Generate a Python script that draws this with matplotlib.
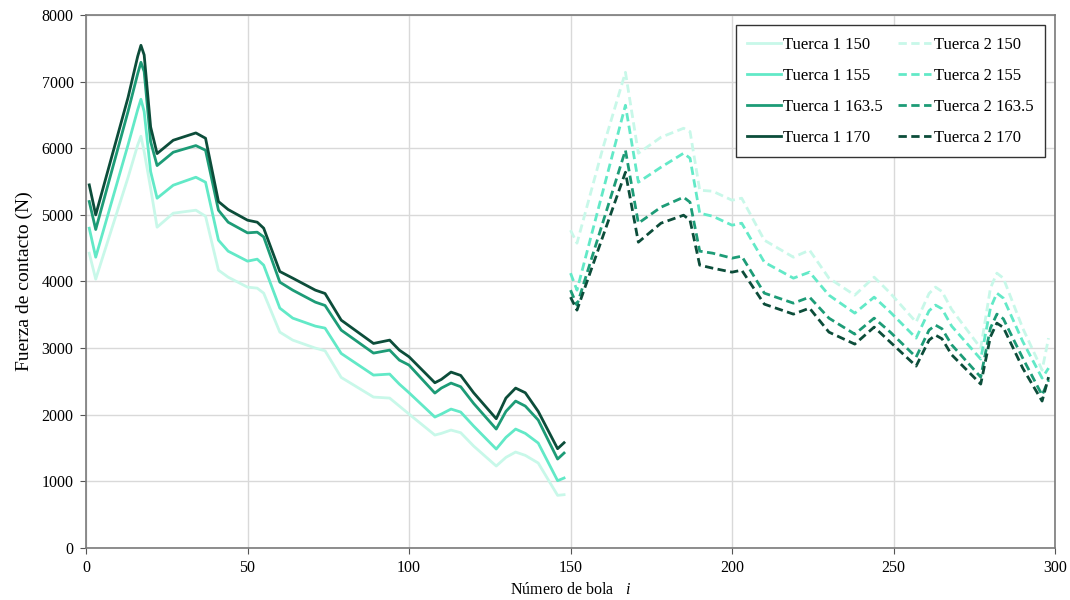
import matplotlib
matplotlib.use("Agg")
import matplotlib.pyplot as plt

plt.rcParams['font.family'] = ['Liberation Serif', 'DejaVu Serif']
plt.rcParams['mathtext.fontset'] = 'custom'
plt.rcParams['mathtext.it'] = 'Liberation Serif:italic'
plt.rcParams['mathtext.rm'] = 'Liberation Serif'

# Tuerca 1: bolas 1-148
bolas_t1 = [1, 3, 13, 16, 17, 18, 20, 22, 27, 34, 37, 41, 44, 50, 53, 55, 60, 64,
            71, 74, 79, 89, 94, 97, 100, 108, 110, 113, 116, 120, 127, 130, 133,
            136, 140, 146, 148]
t1_150 = [4425, 4035, 5560, 6050, 6180, 5950, 5400, 4815, 5025, 5070, 4980, 4170,
          4065, 3915, 3900, 3825, 3240, 3120, 3000, 2960, 2560, 2265, 2250, 2130,
          2010, 1695, 1720, 1770, 1730, 1530, 1230, 1360, 1440, 1390, 1275, 790, 800]
t1_155 = [4800, 4365, 6050, 6580, 6735, 6550, 5650, 5250, 5445, 5565, 5490, 4620,
          4455, 4305, 4335, 4245, 3600, 3450, 3330, 3300, 2920, 2595, 2610, 2460,
          2330, 1965, 2010, 2085, 2040, 1830, 1485, 1660, 1785, 1720, 1575, 1010, 1050]
t1_163 = [5200, 4780, 6550, 7120, 7290, 7150, 6100, 5740, 5940, 6040, 5970, 5070,
          4890, 4730, 4740, 4670, 3990, 3870, 3690, 3640, 3270, 2925, 2970, 2820,
          2745, 2325, 2400, 2475, 2420, 2170, 1785, 2050, 2205, 2130, 1920, 1335, 1425]
t1_170 = [5450, 5000, 6760, 7380, 7545, 7400, 6320, 5920, 6120, 6230, 6150, 5200,
          5080, 4920, 4890, 4800, 4150, 4050, 3870, 3820, 3420, 3070, 3120, 2970,
          2870, 2480, 2530, 2640, 2590, 2330, 1940, 2250, 2400, 2330, 2050, 1490, 1580]

# Tuerca 2: bolas 150-298
bolas_t2 = [150, 152, 160, 167, 171, 178, 185, 187, 190, 194, 200, 203, 210, 219,
            224, 230, 238, 244, 249, 257, 261, 263, 265, 268, 277, 280, 282, 284,
            290, 296, 298]
t2_150 = [4770, 4575, 6000, 7140, 5925, 6165, 6300, 6250, 5370, 5355, 5220, 5250,
          4620, 4365, 4470, 4050, 3795, 4065, 3825, 3390, 3820, 3915, 3850, 3580,
          3000, 3900, 4125, 4050, 3300, 2670, 3150]
t2_155 = [4125, 3870, 5350, 6645, 5490, 5715, 5925, 5850, 5025, 4980, 4845, 4875,
          4290, 4050, 4140, 3795, 3525, 3765, 3540, 3150, 3560, 3645, 3590, 3330,
          2835, 3600, 3825, 3750, 3100, 2550, 2700]
t2_163 = [3870, 3645, 4885, 5970, 4875, 5115, 5265, 5190, 4455, 4425, 4350, 4380,
          3825, 3675, 3765, 3450, 3210, 3450, 3240, 2865, 3270, 3345, 3290, 3050,
          2565, 3300, 3510, 3440, 2850, 2295, 2520]
t2_170 = [3765, 3570, 4675, 5640, 4590, 4875, 4995, 4920, 4245, 4200, 4140, 4170,
          3660, 3510, 3600, 3240, 3060, 3315, 3090, 2730, 3120, 3195, 3140, 2900,
          2460, 3170, 3375, 3310, 2700, 2205, 2565]

cargas = ['150', '155', '163.5', '170']
colores = ['#c8f8e9', '#62e9c7', '#1d9c77', '#0c4d3a']

fig = plt.figure(figsize=(10.7, 6), dpi=100)
ax = fig.add_axes([0.0804, 0.0867, 0.9056, 0.8883])

series_t1 = [t1_150, t1_155, t1_163, t1_170]
series_t2 = [t2_150, t2_155, t2_163, t2_170]

lineas = []
for carga, color, y in zip(cargas, colores, series_t1):
    l, = ax.plot(bolas_t1, y, color=color, lw=2.0, label=f'Tuerca 1 {carga}',
                 solid_joinstyle='round')
    lineas.append(l)
for carga, color, y in zip(cargas, colores, series_t2):
    l, = ax.plot(bolas_t2, y, color=color, lw=2.0, ls=(0, (3, 1.6)),
                 label=f'Tuerca 2 {carga}', dash_joinstyle='round')
    lineas.append(l)

ax.set_xlim(0, 300)
ax.set_ylim(0, 8000)
ax.set_xticks(range(0, 301, 50))
ax.set_yticks(range(0, 8001, 1000))
ax.grid(True, color='#d9d9d9', lw=1)
ax.set_axisbelow(True)
ax.tick_params(direction='out', length=4, pad=5, labelsize=11.5, color='#555555')
for s in ax.spines.values():
    s.set_color('#7a7a7a')
    s.set_linewidth(1.2)

ax.set_xlabel('Número de bola   $\\mathit{i}$', fontsize=11.5, labelpad=4)
ax.set_ylabel('Fuerza de contacto (N)', fontsize=14, labelpad=6)

leg = ax.legend(handles=lineas, ncol=2, loc='upper right', fontsize=12,
                frameon=True, fancybox=False, framealpha=1, edgecolor='#333333',
                handlelength=2.0, handletextpad=0.15, labelspacing=0.9,
                columnspacing=0.9, borderaxespad=0.6, borderpad=0.7)
leg.get_frame().set_linewidth(1.0)

fig.savefig('out.png', dpi=100)
